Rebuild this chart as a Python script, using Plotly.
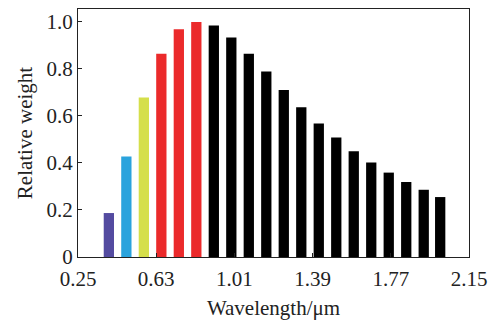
import plotly.graph_objects as go

wavelengths = [0.40, 0.485, 0.57, 0.655, 0.74, 0.825, 0.91, 0.995, 1.08, 1.165,
               1.25, 1.335, 1.42, 1.505, 1.59, 1.675, 1.76, 1.845, 1.93, 2.01]
weights = [0.187, 0.428, 0.678, 0.865, 0.969, 1.0, 0.985, 0.934, 0.865, 0.789,
           0.710, 0.637, 0.568, 0.508, 0.450, 0.402, 0.359, 0.319, 0.286, 0.255]
bar_colors = ["#544BA0", "#2AA3DD", "#D5DF4B", "#EB2A2B", "#EB2A2B", "#EB2A2B"] + ["#000000"] * 14

x_ticks = [0.25, 0.63, 1.01, 1.39, 1.77, 2.15]
x_tick_labels = ["0.25", "0.63", "1.01", "1.39", "1.77", "2.15"]
y_ticks = [0, 0.2, 0.4, 0.6, 0.8, 1.0]
y_tick_labels = ["0", "0.2", "0.4", "0.6", "0.8", "1.0"]

font_family = "Liberation Serif, Times New Roman, serif"

fig = go.Figure(go.Bar(
    x=wavelengths, y=weights, width=0.05,
    marker=dict(color=bar_colors, line=dict(width=0)),
))

fig.update_layout(
    width=495, height=324,
    margin=dict(l=78, r=23, t=8, b=66),
    paper_bgcolor="white", plot_bgcolor="white",
    font=dict(family=font_family, size=21, color="#222222"),
    showlegend=False,
    xaxis=dict(
        range=[0.25, 2.15], tickvals=x_ticks, ticktext=x_tick_labels,
        ticks="inside", ticklen=4, tickcolor="#222222", tickwidth=1,
        showline=True, linecolor="#222222", linewidth=1.2, mirror=True,
        showgrid=False, zeroline=False, ticklabelstandoff=3,
        title=dict(text="Wavelength/μm", standoff=10, font=dict(size=21)),
        tickfont=dict(size=21),
    ),
    yaxis=dict(
        range=[0, 1.055], tickvals=y_ticks, ticktext=y_tick_labels,
        ticks="inside", ticklen=4, tickcolor="#222222", tickwidth=1,
        showline=True, linecolor="#222222", linewidth=1.2, mirror=True,
        showgrid=False, zeroline=False,
        title=dict(text="Relative weight", standoff=8, font=dict(size=21)),
        tickfont=dict(size=21),
    ),
)

fig.write_html("out.html")
